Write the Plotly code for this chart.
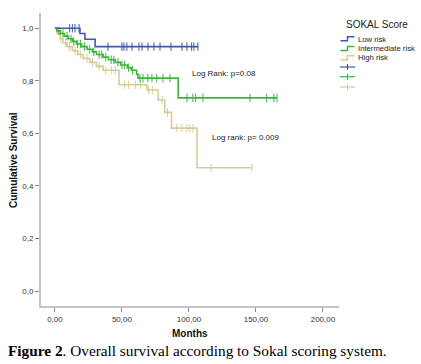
import bisect
import plotly.graph_objects as go

# ---------------- data ----------------
groups = ["Low risk", "Intermediate risk", "High risk"]
colors = ["#3f5ba9", "#3cb43c", "#d6cb95"]

low_times = [0, 18.7, 22.4, 30]
low_surv = [1.0, 0.98, 0.958, 0.93]
low_end = 107
low_censor = [11, 13, 15, 18, 39.6, 50, 51.5, 53.7, 57.5, 62.7, 65, 69.4, 73.9,
              78.4, 86.6, 94.8, 98.5, 102, 103.7, 106.7]

int_times = [0, 1.5, 4, 7, 10, 13, 16, 20, 24, 28, 31, 36, 40, 45, 49, 54, 57, 61, 62, 92]
int_surv = [1.0, 0.99, 0.98, 0.97, 0.96, 0.95, 0.94, 0.93, 0.92, 0.91, 0.90, 0.89,
            0.88, 0.87, 0.86, 0.85, 0.84, 0.825, 0.81, 0.735]
int_end = 165.7
int_censor = [3, 6, 9, 12, 14, 17, 19, 22, 26, 29, 33, 35, 38, 42, 44, 47, 50, 52, 55,
              58, 63.4, 65.7, 69.4, 72.4, 76, 80.6, 85.8, 98.5, 103, 105, 110.4, 145.5,
              158, 163.4, 165.7]

high_times = [0, 1.5, 4, 6, 9, 13, 17, 21, 26, 31, 36, 47.8, 68.7, 77, 82, 87, 106]
high_surv = [1.0, 0.98, 0.96, 0.945, 0.93, 0.915, 0.90, 0.885, 0.87, 0.855, 0.84,
             0.785, 0.765, 0.727, 0.68, 0.62, 0.469]
high_end = 147
high_censor = [4, 8, 11, 15, 19, 24, 28, 33, 38, 42, 45, 52, 55, 60, 64, 70, 73, 80, 84,
               91, 94.8, 98.5, 100.7, 103, 116.4, 147]

x_ticks = [0, 50, 100, 150, 200]
y_ticks = [0.0, 0.2, 0.4, 0.6, 0.8, 1.0]

series = [
    (low_times, low_surv, low_end, low_censor),
    (int_times, int_surv, int_end, int_censor),
    (high_times, high_surv, high_end, high_censor),
]


def surv_at(times, surv, t):
    i = bisect.bisect_right(times, t) - 1
    return surv[max(i, 0)]


fig = go.Figure()
# draw high first so low/intermediate sit on top
for idx in [2, 1, 0]:
    t, s, end, cens = series[idx]
    fig.add_trace(go.Scatter(
        x=t + [end], y=s + [s[-1]], mode="lines", line_shape="hv",
        line=dict(color=colors[idx], width=1.6), name=groups[idx],
        showlegend=False, hoverinfo="skip"))
    fig.add_trace(go.Scatter(
        x=cens, y=[surv_at(t, s, c) for c in cens], mode="markers",
        marker=dict(symbol="line-ns", size=6, color=colors[idx],
                    line=dict(color=colors[idx], width=1)),
        showlegend=False, hoverinfo="skip"))

# ---------------- layout ----------------
W, H = 421, 364
L, R, T, B = 41, 82, 13, 58
PW, PH = W - L - R, H - T - B


def px(x):
    return (x - L) / PW


def py(y):
    return (H - B - y) / PH


shapes = []
annotations = []

# custom legend
annotations.append(dict(xref="paper", yref="paper", x=px(377), y=py(24), text="SOKAL Score",
                        showarrow=False, xanchor="center", yanchor="middle",
                        font=dict(family="Liberation Sans", size=10, color="#222")))
rows = [39, 48.7, 58]
for i, yy in enumerate(rows):
    shapes.append(dict(type="path", xref="paper", yref="paper",
                       path=f"M {px(340.5)} {py(yy+1.8)} L {px(347.5)} {py(yy+1.8)} "
                            f"L {px(347.5)} {py(yy-2.2)} L {px(354.5)} {py(yy-2.2)}",
                       line=dict(color=colors[i], width=1.5)))
    annotations.append(dict(xref="paper", yref="paper", x=px(356), y=py(yy), text=groups[i],
                            showarrow=False, xanchor="left", yanchor="middle",
                            font=dict(family="Liberation Sans", size=7.7, color="#222")))
crows = [67, 76.7, 87]
for i, yy in enumerate(crows):
    shapes.append(dict(type="line", xref="paper", yref="paper", x0=px(340), x1=px(355),
                       y0=py(yy), y1=py(yy), line=dict(color=colors[i], width=1.2)))
    shapes.append(dict(type="line", xref="paper", yref="paper", x0=px(347.5), x1=px(347.5),
                       y0=py(yy - 3), y1=py(yy + 3), line=dict(color=colors[i], width=1)))

# p-value annotations
annotations.append(dict(x=101, y=0.826, text="Log Rank: p=0.08", showarrow=False,
                        xanchor="left", yanchor="middle",
                        font=dict(family="Liberation Sans", size=8, color="#222")))
annotations.append(dict(x=116, y=0.586, text="Log rank: p= 0.009", showarrow=False,
                        xanchor="left", yanchor="middle",
                        font=dict(family="Liberation Sans", size=8, color="#222")))

# axis titles
annotations.append(dict(xref="paper", yref="paper", x=px(13), y=py(160),
                        text="<b>Cumulative Survival</b>", textangle=-90, showarrow=False,
                        xanchor="center", yanchor="middle",
                        font=dict(family="Liberation Sans", size=10, color="#111")))
annotations.append(dict(xref="paper", yref="paper", x=px(190), y=py(333),
                        text="<b>Months</b>", showarrow=False,
                        xanchor="center", yanchor="middle",
                        font=dict(family="Liberation Sans", size=10, color="#111")))
# caption
annotations.append(dict(xref="paper", yref="paper", x=px(6), y=py(350),
                        text="<b>Figure 2</b>. Overall survival according to Sokal scoring system.",
                        showarrow=False, xanchor="left", yanchor="middle",
                        font=dict(family="Liberation Serif", size=15.3, color="#000")))

fig.update_layout(
    width=W, height=H, margin=dict(l=L, r=R, t=T, b=B),
    paper_bgcolor="white", plot_bgcolor="white",
    separators=",.",
    shapes=shapes, annotations=annotations,
    xaxis=dict(range=[-10.4, 212], tickvals=x_ticks, tickformat=".2f",
               showgrid=False, zeroline=False, showline=True, linecolor="#c4c4c4",
               linewidth=2, ticks="outside", ticklen=4, tickcolor="#888", tickwidth=1,
               tickfont=dict(family="Liberation Sans", size=8, color="#333")),
    yaxis=dict(range=[-0.057, 1.058], tickvals=y_ticks, tickformat=".1f",
               showgrid=False, zeroline=False, showline=True, linecolor="#c4c4c4",
               linewidth=2, ticks="outside", ticklen=4, tickcolor="#888", tickwidth=1,
               tickfont=dict(family="Liberation Sans", size=8, color="#333")),
)

fig.write_html("out.html", config={"displayModeBar": False},
               post_script="document.body.style.margin='0';document.body.style.overflow='hidden';")
